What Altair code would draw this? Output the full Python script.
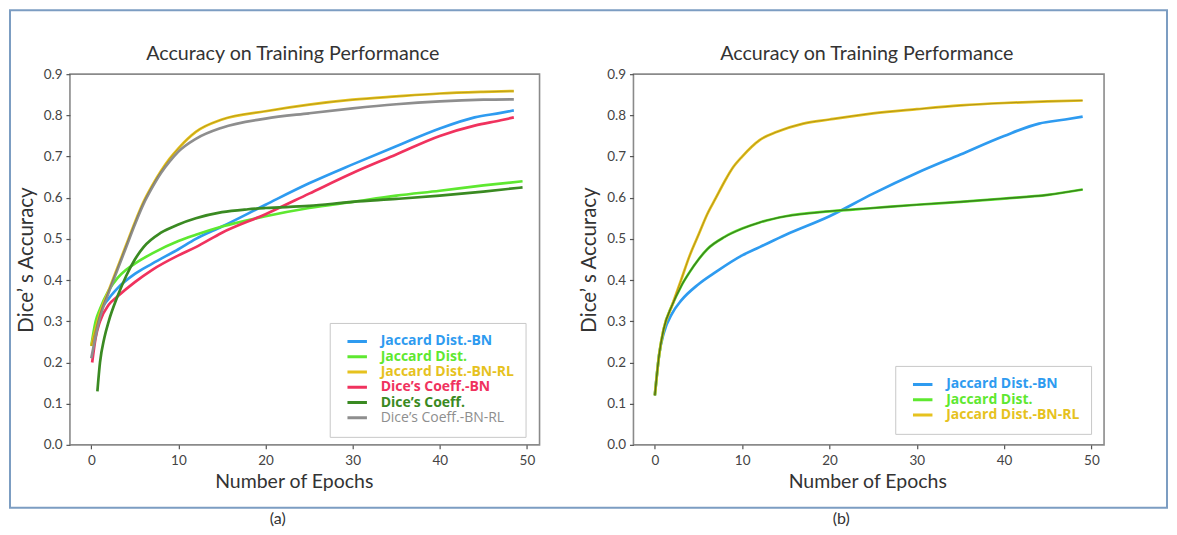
import altair as alt
import pandas as pd

# ---------------- data ----------------
X_TICKS = [0, 10, 20, 30, 40, 50]
Y_TICKS = [0.0, 0.1, 0.2, 0.3, 0.4, 0.5, 0.6, 0.7, 0.8, 0.9]

SERIES_A = ["Jaccard Dist.-BN", "Jaccard Dist.", "Jaccard Dist.-BN-RL",
            "Dice’s Coeff.-BN", "Dice’s Coeff.", "Dice’s Coeff.-BN-RL"]
COLORS_A = ["#2e9bf0", "#5ee830", "#e6c21e", "#f0325e", "#3a8a22", "#8e8e8e"]
WEIGHTS_A = ["bold", "bold", "bold", "bold", "bold", "normal"]

a_jbn_epochs = [0.2, 1, 2, 3, 5, 7, 10, 12, 15, 20, 25, 30, 35, 40, 44, 47, 48.5]
a_jbn_acc = [0.24, 0.32, 0.355, 0.38, 0.415, 0.44, 0.475, 0.50, 0.53, 0.583, 0.635,
             0.681, 0.725, 0.768, 0.795, 0.806, 0.812]

a_j_epochs = [0, 0.5, 1, 2, 3, 4, 5, 7, 10, 12, 15, 20, 25, 30, 35, 40, 45, 49.5]
a_j_acc = [0.24, 0.30, 0.33, 0.375, 0.405, 0.425, 0.44, 0.465, 0.495, 0.51, 0.53,
           0.555, 0.575, 0.59, 0.605, 0.617, 0.63, 0.64]

a_jrl_epochs = [0, 1, 2, 3, 4, 5, 6, 7, 8, 9, 10, 12, 15, 20, 25, 30, 35, 40, 45, 48.5]
a_jrl_acc = [0.24, 0.32, 0.375, 0.43, 0.485, 0.54, 0.59, 0.63, 0.665, 0.695, 0.72, 0.76,
             0.79, 0.81, 0.826, 0.838, 0.846, 0.853, 0.857, 0.859]

a_dbn_epochs = [0.1, 0.5, 1, 2, 3, 5, 7, 10, 12, 15, 20, 25, 30, 35, 40, 44, 47, 48.5]
a_dbn_acc = [0.20, 0.26, 0.30, 0.34, 0.36, 0.395, 0.425, 0.46, 0.48, 0.515, 0.56,
             0.61, 0.66, 0.705, 0.75, 0.775, 0.788, 0.795]

a_d_epochs = [0.7, 1, 1.5, 2, 3, 4, 5, 6, 8, 10, 12, 15, 18, 20, 25, 30, 35, 40, 45, 49.5]
a_d_acc = [0.13, 0.20, 0.26, 0.30, 0.36, 0.41, 0.45, 0.48, 0.515, 0.535, 0.55, 0.565,
           0.572, 0.575, 0.58, 0.59, 0.597, 0.605, 0.615, 0.625]

a_drl_epochs = [0, 1, 2, 3, 4, 5, 6, 7, 8, 9, 10, 12, 15, 20, 25, 30, 35, 40, 45, 48.5]
a_drl_acc = [0.21, 0.31, 0.37, 0.425, 0.48, 0.535, 0.585, 0.625, 0.66, 0.688, 0.712,
             0.743, 0.77, 0.792, 0.805, 0.817, 0.827, 0.834, 0.838, 0.839]

SERIES_B = ["Jaccard Dist.-BN", "Jaccard Dist.", "Jaccard Dist.-BN-RL"]
COLORS_B = ["#2e9bf0", "#5ee830", "#e6c21e"]
WEIGHTS_B = ["bold", "bold", "bold"]

b_jbn_epochs = [0, 0.5, 1, 2, 3, 5, 7, 10, 12, 15, 20, 25, 30, 35, 40, 44, 47, 49]
b_jbn_acc = [0.12, 0.22, 0.27, 0.32, 0.35, 0.39, 0.42, 0.46, 0.48, 0.51, 0.555, 0.61,
             0.66, 0.705, 0.75, 0.78, 0.79, 0.797]

b_j_epochs = [0, 0.5, 1, 2, 3, 4, 5, 6, 8, 10, 12, 15, 20, 25, 30, 35, 40, 45, 49]
b_j_acc = [0.12, 0.22, 0.28, 0.34, 0.385, 0.42, 0.45, 0.475, 0.505, 0.525, 0.54, 0.555,
           0.567, 0.575, 0.583, 0.59, 0.598, 0.607, 0.62]

b_jrl_epochs = [0, 0.5, 1, 2, 3, 4, 5, 6, 7, 8, 9, 10, 12, 14, 17, 20, 25, 30, 35, 40, 45, 49]
b_jrl_acc = [0.12, 0.22, 0.28, 0.34, 0.40, 0.46, 0.51, 0.56, 0.60, 0.64, 0.675, 0.70,
             0.74, 0.76, 0.78, 0.79, 0.805, 0.815, 0.824, 0.83, 0.834, 0.836]

TITLE = "Accuracy on Training Performance"
X_TITLE = "Number of Epochs"
Y_TITLE = "Dice’ s Accuracy"
FONT = "Lato"
LEG_FONT = "Open Sans"


def make_df(names, epochs_list, acc_list):
    rows = []
    for n, es, vs in zip(names, epochs_list, acc_list):
        for e, v in zip(es, vs):
            rows.append({"series": n, "epoch": e, "acc": v})
    return pd.DataFrame(rows)


df_a = make_df(SERIES_A, [a_jbn_epochs, a_j_epochs, a_jrl_epochs, a_dbn_epochs, a_d_epochs, a_drl_epochs],
               [a_jbn_acc, a_j_acc, a_jrl_acc, a_dbn_acc, a_d_acc, a_drl_acc])
df_b = make_df(SERIES_B, [b_jbn_epochs, b_j_epochs, b_jrl_epochs], [b_jbn_acc, b_j_acc, b_jrl_acc])

one = pd.DataFrame({"k": [0]})


def chain_expr(names, vals, default):
    expr = f"'{default}'"
    for n, v in reversed(list(zip(names, vals))):
        expr = f"datum.label === '{n}' ? '{v}' : {expr}"
    return expr


def panel(df, names, colors, weights, width, legend_xy, title_dx, title_dy, xtitle_x,
          caption, overlays, with_frame):
    height = 371
    xs = alt.Scale(domain=[-2.45, 51.45], nice=False, zero=False)
    ys = alt.Scale(domain=[0, 0.9], nice=False)
    x_axis = alt.Axis(values=X_TICKS, title=X_TITLE, titleX=xtitle_x, grid=False, domain=False,
                      tickSize=4, tickColor="#555", tickWidth=1.2, labelPadding=5,
                      labelFont=FONT, labelFontSize=13.5, labelColor="#444",
                      titleFont=FONT, titleFontSize=19.5, titleFontWeight="normal",
                      titleColor="#333", titlePadding=5)
    y_axis = alt.Axis(values=Y_TICKS, format=".1f", title=Y_TITLE, grid=False, domain=False,
                      tickSize=4, tickColor="#555", tickWidth=1.2, labelPadding=4,
                      labelFont=FONT, labelFontSize=13.5, labelColor="#444",
                      titleFont=FONT, titleFontSize=20.5, titleFontWeight="normal",
                      titleColor="#333", titlePadding=7)
    legend = alt.Legend(title=None, orient="none", legendX=legend_xy[0], legendY=legend_xy[1],
                        symbolType="stroke", symbolSize=380, symbolStrokeWidth=3,
                        labelFont=LEG_FONT, labelFontSize=14,
                        labelFontWeight=alt.ExprRef(chain_expr(names, weights, "bold")),
                        labelColor=alt.ExprRef(chain_expr(names, colors, "#333")),
                        labelOffset=12, padding=11, symbolOffset=5, strokeColor="#c8c8c8",
                        fillColor="white", rowPadding=0.3, clipHeight=15, labelLimit=400)
    lines = alt.Chart(df).mark_line(strokeWidth=2.7, interpolate="monotone").encode(
        x=alt.X("epoch:Q", scale=xs, axis=x_axis),
        y=alt.Y("acc:Q", scale=ys, axis=y_axis),
        color=alt.Color("series:N", scale=alt.Scale(domain=names, range=colors),
                        sort=names, legend=legend),
        order=alt.Order("epoch:Q"),
    )
    layers = []
    if with_frame:
        layers.append(alt.Chart(one).mark_rect(fillOpacity=0, stroke="#7c9dc2", strokeWidth=2).encode(
            x=alt.value(-60), x2=alt.value(1098), y=alt.value(-64), y2=alt.value(434)))
    layers.append(lines)
    for name, col, sw, op in overlays:
        layers.append(alt.Chart(df).transform_filter(alt.datum.series == name).mark_line(
            strokeWidth=sw, interpolate="monotone", color=col, opacity=op).encode(
            x="epoch:Q", y="acc:Q", order=alt.Order("epoch:Q")))
    layers.append(alt.Chart(one).mark_text(text=caption, font=FONT, fontSize=16, color="#333").encode(
        x=alt.value(208), y=alt.value(445)))
    return alt.layer(*layers).properties(
        width=width, height=height,
        title=alt.TitleParams(TITLE, font=FONT, fontSize=19.7, fontWeight="normal", color="#333",
                              anchor="middle", frame="group", offset=3.5, dx=title_dx, dy=title_dy))


pa = panel(df_a, SERIES_A, COLORS_A, WEIGHTS_A, 470, (260, 249), -12, 58, 224, "(a)",
           [("Jaccard Dist.-BN-RL", "#6b5a10", 0.8, 0.45)], True)
pb = panel(df_b, SERIES_B, COLORS_B, WEIGHTS_B, 471, (262, 292), -2, 0, 234, "(b)",
           [("Jaccard Dist.", "#3a7f1e", 1.6, 0.95), ("Jaccard Dist.-BN-RL", "#6b5a10", 0.8, 0.55)],
           False)

chart = alt.hconcat(pa, pb, spacing=94, bounds="flush").resolve_scale(color="independent").properties(
    padding=0, background="white"
).configure_view(stroke="#8a8a8a", strokeWidth=1.6)

chart.save("out.html", embed_options={"renderer": "svg", "actions": False})
